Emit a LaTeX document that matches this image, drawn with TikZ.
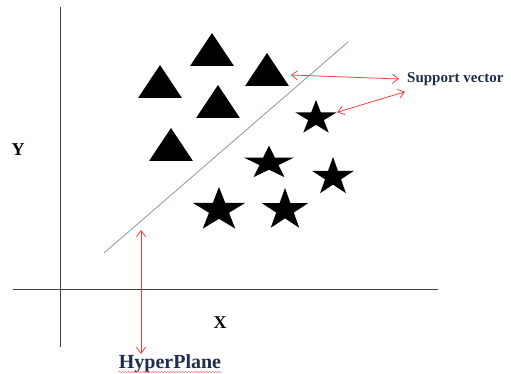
\documentclass[tikz,border=0pt]{standalone}
\usepackage{fontspec}
\setmainfont{Liberation Serif}
\usepackage{tikz}
\usetikzlibrary{shapes.geometric,arrows.meta,decorations.pathmorphing,positioning}
\definecolor{navy}{HTML}{1F2C4C}
\definecolor{slate}{HTML}{8497B0}
\definecolor{svred}{HTML}{FF3333}

\begin{document}
\begin{tikzpicture}[x=1pt, y=-1pt, >={Straight Barb[length=6pt,width=9pt]},
  tri/.style={regular polygon, regular polygon sides=3, fill=black, inner sep=0pt, minimum size=44pt, xscale=1.15},
  starnode/.style 2 args={star, star points=5, star point ratio=2.618, fill=black, inner sep=0pt, minimum size=#1, xscale=#2},
  axis/.style={draw=black!75, line width=0.8pt},
  sv/.style={<->, svred, line width=0.75pt}]
\useasboundingbox (0,0) rectangle (511,374);

% axes
\coordinate (O1) at (60,7);
\coordinate (O2) at (60,347);
\coordinate (O3) at (13,289);
\coordinate (O4) at (438,289);
\draw[axis] (O1) -- (O2);
\draw[axis] (O3) -- (O4);
\node[font=\bfseries\fontsize{18}{18}\selectfont] (Ylab) at (18,150) {Y};
\node[font=\bfseries\fontsize{18}{18}\selectfont] (Xlab) at (220,323) {X};

% class one
\node[tri] (T1) at (212,55) {};
\node[tri] (T2) at (160,87) {};
\node[tri] (T3) at (267,75) {};
\node[tri] (T4) at (218,107) {};
\node[tri] (T5) at (171,150) {};

% class two
\node[starnode={36pt}{1.2}] (S1) at (316,118) {};
\node[starnode={35pt}{1.5}] (S2) at (269,163) {};
\node[starnode={40pt}{1.1}] (S3) at (333,177) {};
\node[starnode={46pt}{1.2}] (S4) at (219,210) {};
\node[starnode={44pt}{1.1}] (S5) at (285,210) {};

% separating line
\coordinate (H1) at (104,253);
\coordinate (H2) at (348,42);
\draw[slate, line width=0.8pt] (H1) -- (H2);

% labels
\node[navy, font=\bfseries\fontsize{15}{15}\selectfont, anchor=west, inner sep=1pt] (SV) at (406,79) {Support vector};
\node[navy, font=\bfseries\fontsize{20}{20}\selectfont, anchor=base, inner sep=0pt] (HP) at (170,368) {HyperPlane};
\draw[svred!70, line width=0.5pt, decorate, decoration={snake, amplitude=0.7pt, segment length=3pt}]
  ([yshift=-4pt]HP.base west) -- ([yshift=-4pt]HP.base east);

\coordinate (HPtop) at (141,230);
\draw[sv] ([xshift=9pt]T3.east) -- ([xshift=-7pt]SV.west);
\draw[sv] (S1.outer point 5) -- ([xshift=-1pt,yshift=-5pt]SV.south west);
\draw[sv] (HPtop) -- (HPtop |- HP.north);
\end{tikzpicture}
\end{document}
